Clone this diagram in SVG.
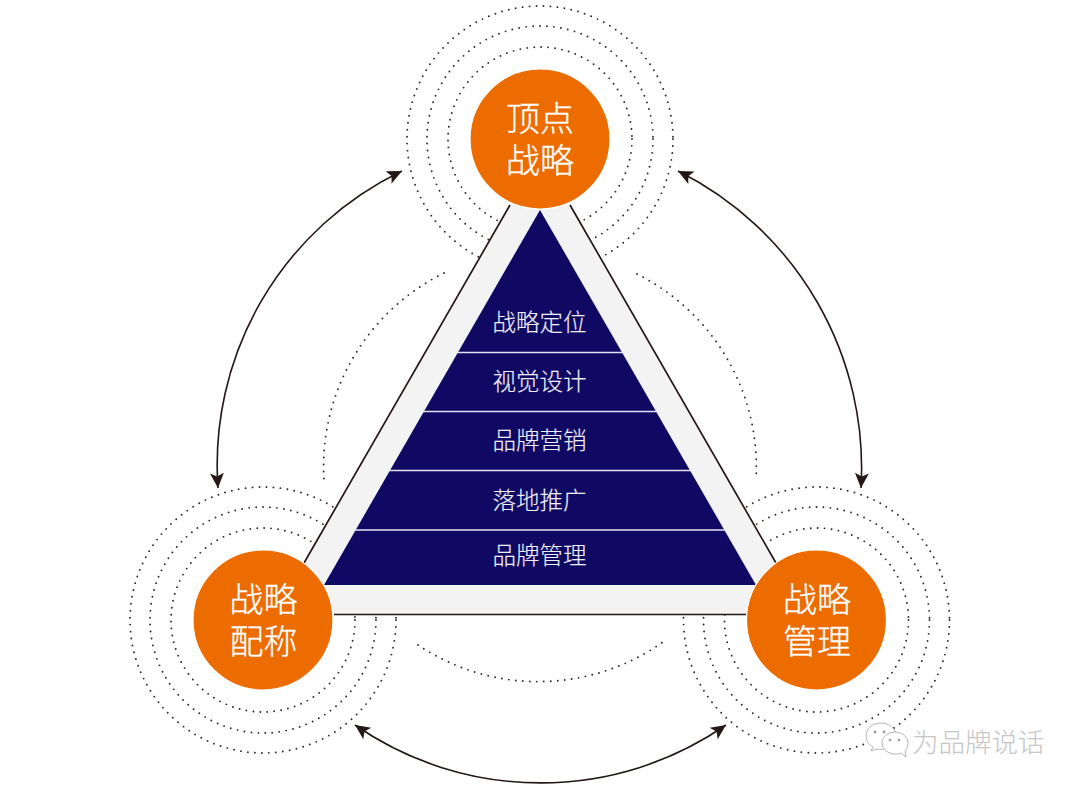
<svg xmlns="http://www.w3.org/2000/svg" width="1080" height="790" viewBox="0 0 1080 790">
<style>
.dot{fill:none;stroke:#2e2826;stroke-width:1.9;stroke-linecap:round;stroke-dasharray:0 7}
.edge{fill:none;stroke:#231815;stroke-width:1.7}
.arrow{fill:none;stroke:#231815;stroke-width:1.6;marker-start:url(#head);marker-end:url(#head)}
.disc{fill:#ec6c00;stroke:#fff;stroke-width:1.2}
.big{font:300 34px "Noto Sans CJK SC","Noto Sans",sans-serif;fill:#fff;stroke:#fff;stroke-width:.3;text-anchor:middle}
.tier{font:300 23.5px "Noto Sans CJK SC","Noto Sans",sans-serif;fill:#f0eef6;stroke:#f0eef6;stroke-width:.15;text-anchor:middle}
.rule{stroke:#e4e2f4;stroke-width:1.6}
.wm{font:300 26.5px "Noto Sans CJK SC","Noto Sans",sans-serif;fill:#c6c6c6}
.bub{fill:#fff;stroke:#b5b5b5;stroke-width:1}
.eye{fill:#9a9a9a}
</style>
<defs>
<marker id="head" markerUnits="userSpaceOnUse" markerWidth="18" markerHeight="16" refX="15" refY="7" orient="auto-start-reverse">
<path d="M0 0L15 7L0 14L3.5 7Z" fill="#231815"/>
</marker>
</defs>
<rect width="1080" height="790" fill="#fff"/>
<g id="connectors">
<path class="arrow" d="M402 171A326 326 0 0 0 218 488"/>
<path class="arrow" d="M678 171A332 332 0 0 1 861 488"/>
<path class="arrow" d="M355 725A326 326 0 0 0 726 725"/>
<path class="dot" d="M444 273A216 216 0 0 0 324 480"/>
<path class="dot" d="M637 274A216 216 0 0 1 756 480"/>
<path class="dot" d="M418 645A216 216 0 0 0 663 642"/>
</g>
<g id="rings">
<circle class="dot" cx="540" cy="139" r="133"/><circle class="dot" cx="540" cy="139" r="113"/><circle class="dot" cx="540" cy="139" r="92"/>
<circle class="dot" cx="263" cy="620" r="133"/><circle class="dot" cx="263" cy="620" r="113"/><circle class="dot" cx="263" cy="620" r="92"/>
<circle class="dot" cx="816.5" cy="620" r="133"/><circle class="dot" cx="816.5" cy="620" r="113"/><circle class="dot" cx="816.5" cy="620" r="92"/>
</g>
<g id="pyramid">
<polygon points="540,152 806,614.5 274,614.5" fill="#f3f3f3"/>
<path class="edge" d="M510 205L304 563M570 205L776 563M334 614.5H746"/>
<polygon points="540,210 756,585 324,585" fill="#100964"/>
<path class="rule" d="M457 352.5H623M423 411.5H657M389 470.5H691M355 530H725"/>
<g id="tier-1"><text class="tier" x="539.5" y="331">战略定位</text></g>
<g id="tier-2"><text class="tier" x="539.5" y="389.5">视觉设计</text></g>
<g id="tier-3"><text class="tier" x="539.5" y="448.5">品牌营销</text></g>
<g id="tier-4"><text class="tier" x="539.5" y="508.5">落地推广</text></g>
<g id="tier-5"><text class="tier" x="539.5" y="563.5">品牌管理</text></g>
</g>
<g id="node-top"><circle class="disc" cx="540" cy="139" r="70"/><text class="big" x="540" y="131">顶点</text><text class="big" x="540" y="173">战略</text></g>
<g id="node-left"><circle class="disc" cx="263" cy="620" r="70"/><text class="big" x="263.5" y="612">战略</text><text class="big" x="263.5" y="654">配称</text></g>
<g id="node-right"><circle class="disc" cx="816.5" cy="620" r="70"/><text class="big" x="817" y="612">战略</text><text class="big" x="817" y="654">管理</text></g>
<g id="watermark">
<path class="bub" d="M881 723C872 723 866 729 866 736C866 741 869 745 873 747L871 751L877 749C883 750 889 749 893 746L897 736C896 729 889 723 881 723Z"/>
<path class="bub" d="M895 732C888 732 882 737 882 743C882 749 888 754 895 754C897 754 899 754 901 753L906 757L905 751C907 749 908 746 908 743C908 737 902 732 895 732Z"/>
<circle class="eye" cx="875" cy="732" r="1.4"/><circle class="eye" cx="884" cy="732" r="1.4"/><circle class="eye" cx="890" cy="740" r="1.3"/><circle class="eye" cx="899" cy="740" r="1.3"/>
<text class="wm" x="912" y="752">为品牌说话</text>
</g>
</svg>
